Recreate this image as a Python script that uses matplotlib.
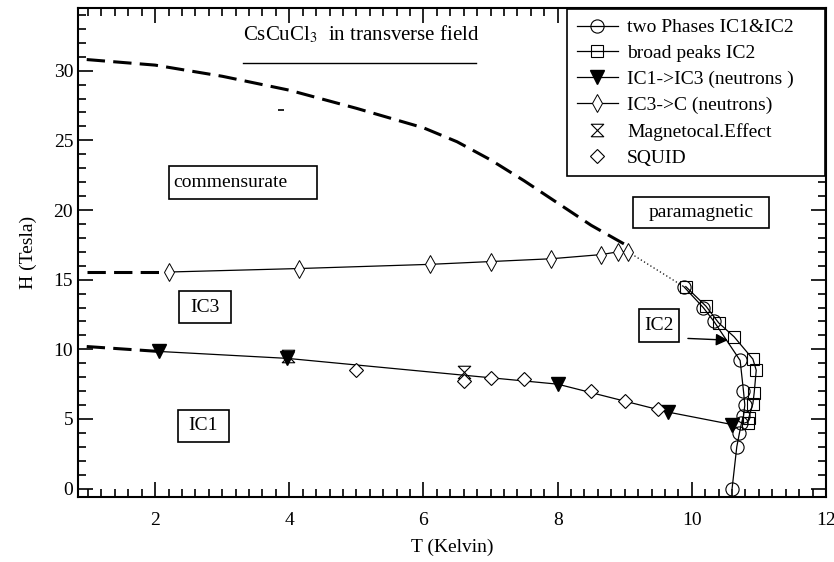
import matplotlib
matplotlib.use("Agg")
import matplotlib.pyplot as plt
from matplotlib.path import Path
from matplotlib.patches import Rectangle

plt.rcParams['font.family'] = ['Liberation Serif', 'DejaVu Serif']
plt.rcParams['mathtext.fontset'] = 'stix'

# phase boundary data, T in Kelvin, H in Tesla
two_phase_T = [9.88, 10.17, 10.33, 10.72, 10.77, 10.79, 10.77, 10.74, 10.71, 10.67, 10.6]
two_phase_H = [14.5, 13.0, 12.0, 9.2, 7.0, 6.0, 5.2, 4.7, 4.0, 3.0, 0.0]

broad_T = [9.91, 10.21, 10.4, 10.63, 10.91, 10.96, 10.93, 10.91, 10.85, 10.83]
broad_H = [14.5, 13.1, 11.9, 10.9, 9.3, 8.5, 6.9, 6.1, 5.1, 4.7]

ic1_ic3_T = [2.05, 3.97, 8.0, 9.64, 10.6]
ic1_ic3_H = [9.85, 9.35, 7.5, 5.5, 4.6]

ic3_c_T = [2.21, 4.15, 6.1, 7.0, 7.9, 8.65, 8.9, 9.05]
ic3_c_H = [15.55, 15.8, 16.1, 16.3, 16.5, 16.8, 17.0, 17.0]

mce_T = [3.98, 6.6]
mce_H = [9.55, 8.35]

squid_T = [5.0, 6.6, 7.0, 7.5, 8.5, 9.0, 9.5]
squid_H = [8.5, 7.75, 7.95, 7.85, 7.0, 6.3, 5.7]

# guide-to-the-eye extrapolations
comm_T = [0.98, 2.0, 3.0, 4.0, 5.0, 6.0, 6.5, 7.0, 7.5, 8.0, 8.5, 9.05]
comm_H = [30.8, 30.4, 29.6, 28.6, 27.3, 25.9, 24.9, 23.6, 22.1, 20.5, 18.9, 17.4]
ic3_ext_T = [0.98, 2.21]
ic3_ext_H = [15.55, 15.55]
ic1_ext_T = [0.98, 2.05]
ic1_ext_H = [10.2, 9.85]
para_T = [9.05, 9.88]
para_H = [17.0, 14.5]

hourglass = Path([(-1, 1), (1, 1), (-1, -1), (1, -1), (-1, 1)],
                 [Path.MOVETO, Path.LINETO, Path.LINETO, Path.LINETO, Path.CLOSEPOLY])

fig = plt.figure(figsize=(8.34, 5.62), dpi=100)
ax = fig.add_axes([78 / 834, 1 - 497 / 562, 748 / 834, 489 / 562])

dash = (0, (6, 2.7))
ax.plot(comm_T, comm_H, color='black', lw=2.2, linestyle=dash)
ax.plot(ic3_ext_T, ic3_ext_H, color='black', lw=2.2, linestyle=dash)
ax.plot(ic1_ext_T, ic1_ext_H, color='black', lw=2.2, linestyle=dash)
ax.plot(para_T, para_H, color='black', lw=0.9, linestyle=(0, (1, 2)))
ax.plot([3.87], [27.2], marker='_', color='black', ms=4, mew=1.2)

ax.plot(two_phase_T, two_phase_H, color='black', lw=0.9, marker='o', ms=9.5,
        mfc='none', mec='black', mew=0.8, label='two Phases IC1&IC2')
ax.plot(broad_T, broad_H, color='black', lw=0.9, marker='s', ms=9,
        mfc='none', mec='black', mew=0.8, label='broad peaks IC2')
ax.plot(ic1_ic3_T, ic1_ic3_H, color='black', lw=0.9, marker='v', ms=10,
        mfc='black', mec='black', label='IC1->IC3 (neutrons )')
ax.plot(ic3_c_T, ic3_c_H, color='black', lw=0.9, marker='d', ms=9,
        mfc='white', mec='black', mew=0.7, label='IC3->C (neutrons)')
ax.plot(mce_T, mce_H, linestyle='none', marker=hourglass, ms=9,
        mfc='none', mec='black', mew=0.8, label='Magnetocal.Effect')
ax.plot(squid_T, squid_H, linestyle='none', marker='D', ms=7.5,
        mfc='white', mec='black', mew=0.8, label='SQUID')

ax.set_xlim(0.85, 12.0)
ax.set_ylim(-0.6, 34.5)
ax.set_xticks([2, 4, 6, 8, 10, 12])
ax.set_xticks([0.2 * i for i in range(5, 61)], minor=True)
ax.set_yticks([0, 5, 10, 15, 20, 25, 30])
ax.set_yticks(range(0, 35), minor=True)
ax.tick_params(which='both', direction='in', top=True, right=True, labelsize=14, width=1.2)
ax.tick_params(which='major', length=11)
ax.tick_params(which='minor', length=6)
ax.tick_params(axis='x', which='major', pad=11)
for s in ax.spines.values():
    s.set_linewidth(1.5)

ax.set_xlabel('T (Kelvin)', fontsize=14, labelpad=7)
ax.set_ylabel('H (Tesla)', fontsize=14, labelpad=12)

leg = ax.legend(loc='upper left', bbox_to_anchor=(0.6537, 0.0, 0.345, 0.998), mode='expand',
                fontsize=14, frameon=True, fancybox=False,
                edgecolor='black', borderaxespad=0.0, borderpad=0.5,
                handlelength=2.1, handletextpad=0.5, labelspacing=0.43)
leg.get_frame().set_linewidth(1.2)
leg.get_frame().set_alpha(1)

# title with underline
ax.text(3.31, 32.6, r'CsCuCl$_3$  in transverse field', fontsize=15, ha='left', va='center')
ax.plot([3.31, 6.78], [30.58, 30.58], color='black', lw=1.0)

# phase region labels
def boxed(x0, x1, y0, y1, label, tx, ty, ha='center'):
    ax.add_patch(Rectangle((x0, y0), x1 - x0, y1 - y0, fill=False, ec='black', lw=1.2))
    ax.text(tx, ty, label, fontsize=14, ha=ha, va='center')

boxed(2.21, 4.42, 20.79, 23.17, 'commensurate', 2.27, 21.98, ha='left')
boxed(9.13, 11.15, 18.71, 20.94, 'paramagnetic', 10.14, 19.82)
boxed(2.36, 3.13, 11.87, 14.17, 'IC3', 2.746, 13.02)
boxed(2.34, 3.10, 3.38, 5.68, 'IC1', 2.72, 4.53)
boxed(9.21, 9.81, 10.50, 12.88, 'IC2', 9.51, 11.69)
ax.annotate('', xy=(10.58, 10.65), xytext=(9.9, 10.79),
            arrowprops=dict(arrowstyle='-|>', color='black', lw=1.0, mutation_scale=18))

fig.savefig('out.png', dpi=100)
